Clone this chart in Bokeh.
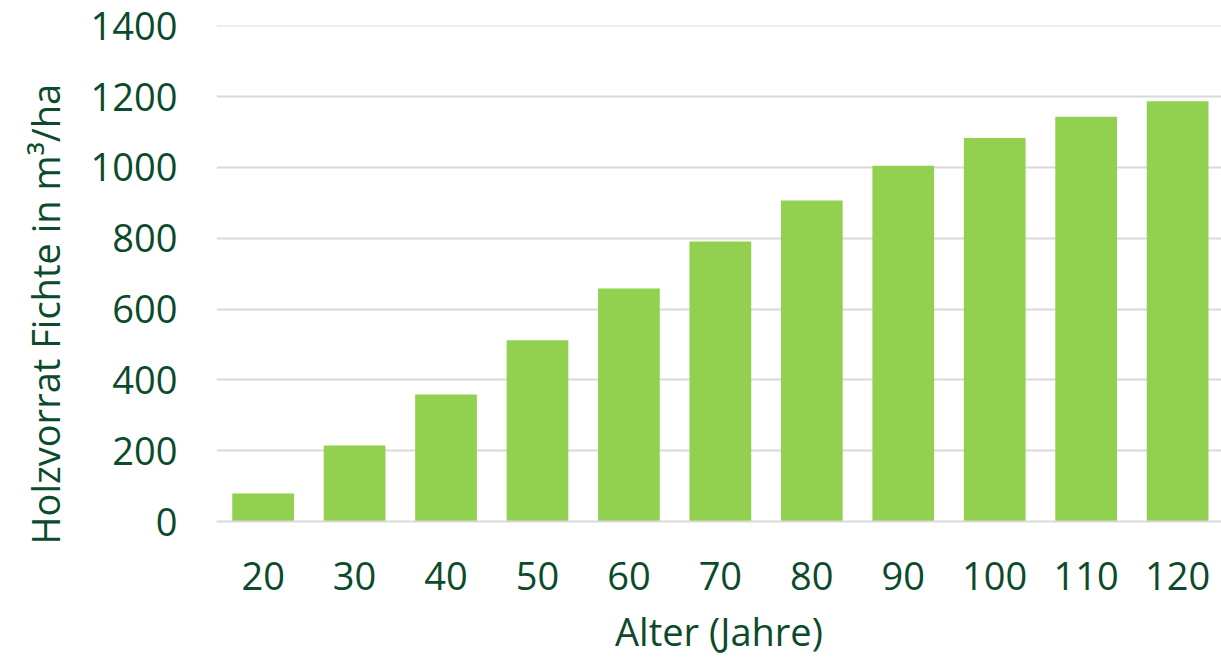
from bokeh.plotting import figure
from bokeh.models import Range1d, FixedTicker, Title
from bokeh.embed import file_html
from bokeh.resources import INLINE

ages = [20, 30, 40, 50, 60, 70, 80, 90, 100, 110, 120]
volume = [79, 215, 359, 512, 658, 791, 907, 1005, 1083, 1143, 1187]
y_ticks = [0, 200, 400, 600, 800, 1000, 1200, 1400]
y_title = "Holzvorrat Fichte in m³/ha"
x_title = "Alter (Jahre)"

FONT = "Open Sans"
FS = "38px"
TXT = "#0B4B2B"
BAR = "#92D050"
GRID = "#D9D9D9"

p = figure(width=1221, height=659, output_backend="svg", toolbar_location=None,
           x_range=Range1d(14.9, 124.8), y_range=Range1d(0, 1401),
           min_border_left=216, min_border_right=0, min_border_top=25,
           min_border_bottom=138)
p.outline_line_color = None

p.vbar(x=ages, top=volume, width=6.75, bottom=0, fill_color=BAR, line_color=None)

p.xgrid.grid_line_color = None
p.ygrid.grid_line_color = GRID
p.ygrid.grid_line_width = 2
p.ygrid.ticker = FixedTicker(ticks=y_ticks)

p.yaxis.ticker = FixedTicker(ticks=y_ticks)
p.xaxis.ticker = FixedTicker(ticks=ages)

for ax in (p.xaxis[0], p.yaxis[0]):
    ax.major_label_text_font = FONT
    ax.major_label_text_font_size = FS
    ax.major_label_text_color = TXT
    ax.major_tick_line_color = None
    ax.minor_tick_line_color = None
    ax.major_tick_in = 0
    ax.major_tick_out = 0

p.yaxis.axis_line_color = None
p.yaxis.major_label_standoff = 39
p.xaxis.axis_line_color = GRID
p.xaxis.axis_line_width = 2
p.xaxis.major_label_standoff = 40

p.xaxis.axis_label = x_title
p.xaxis.axis_label_text_font = FONT
p.xaxis.axis_label_text_font_size = FS
p.xaxis.axis_label_text_font_style = "normal"
p.xaxis.axis_label_text_color = TXT
p.xaxis.axis_label_standoff = 12

yt = Title(text=y_title, align="left", offset=-23, vertical_align="middle",
           text_font=FONT, text_font_size=FS,
           text_font_style="normal", text_color=TXT)
if "standoff" in yt.properties():
    yt.standoff = 32
p.add_layout(yt, "left")

open("out.html", "w").write(file_html(p, INLINE))
